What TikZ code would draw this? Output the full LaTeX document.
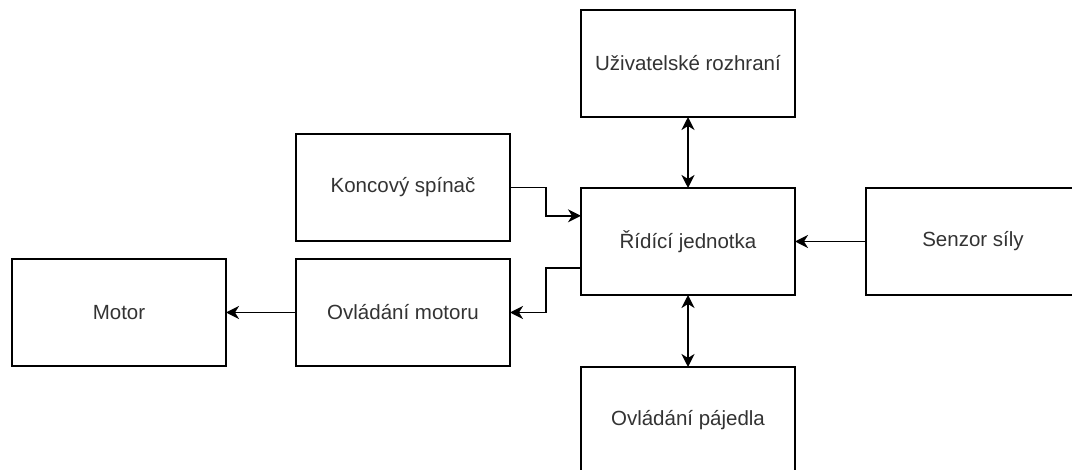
\documentclass[tikz,border=0pt]{standalone}
\usepackage{fontspec}
\setmainfont{Liberation Sans}
\usetikzlibrary{arrows.meta,calc}
\definecolor{textgray}{RGB}{51,51,51}
\begin{document}
\begin{tikzpicture}[x=1pt,y=-1pt,
  block/.style={draw=black, line width=1.8pt, fill=white,
    minimum width=214pt, minimum height=107pt, inner sep=0pt, outer sep=0pt,
    anchor=north west, text=textgray, font=\fontsize{20.5}{24}\selectfont},
  link/.style={line width=1.8pt, -{Stealth[length=13pt,width=13pt,inset=4pt]}},
  duplex/.style={line width=1.8pt, {Stealth[length=13pt,width=13pt,inset=4pt]}-{Stealth[length=13pt,width=13pt,inset=4pt]}}]
  \path[use as bounding box, clip] (0,0) rectangle (1072,470);

  % blocks
  \node[block] (ui)  at (581,10)  {Uživatelské rozhraní};
  \node[block] (sw)  at (296,134) {Koncový spínač};
  \node[block] (cu)  at (581,188) {Řídící jednotka};
  \node[block] (sen) at (866,188) {Senzor síly};
  \node[block] (mot) at (12,259)  {Motor};
  \node[block] (mc)  at (296,259) {Ovládání motoru};
  \node[block] (sol) at (581,367) {Ovládání pájedla};

  % routing helpers
  \coordinate (mx)   at (546,0);
  \coordinate (kin)  at ($(cu.north west)!.26!(cu.south west)$);
  \coordinate (kout) at ($(cu.north west)!.75!(cu.south west)$);

  % connectors
  \draw[link] (sw.east) -| (mx |- kin) -- (kin);
  \draw[link] (kout) -| (mx |- mc.east) -- (mc.east);
  \draw[link] (mc.west) -- (mot.east);
  \draw[link] (sen.west) -- (sen.west -| cu.east);
  \draw[duplex] (ui.south) -- (cu.north);
  \draw[duplex] (cu.south) -- (sol.north);
\end{tikzpicture}
\end{document}
